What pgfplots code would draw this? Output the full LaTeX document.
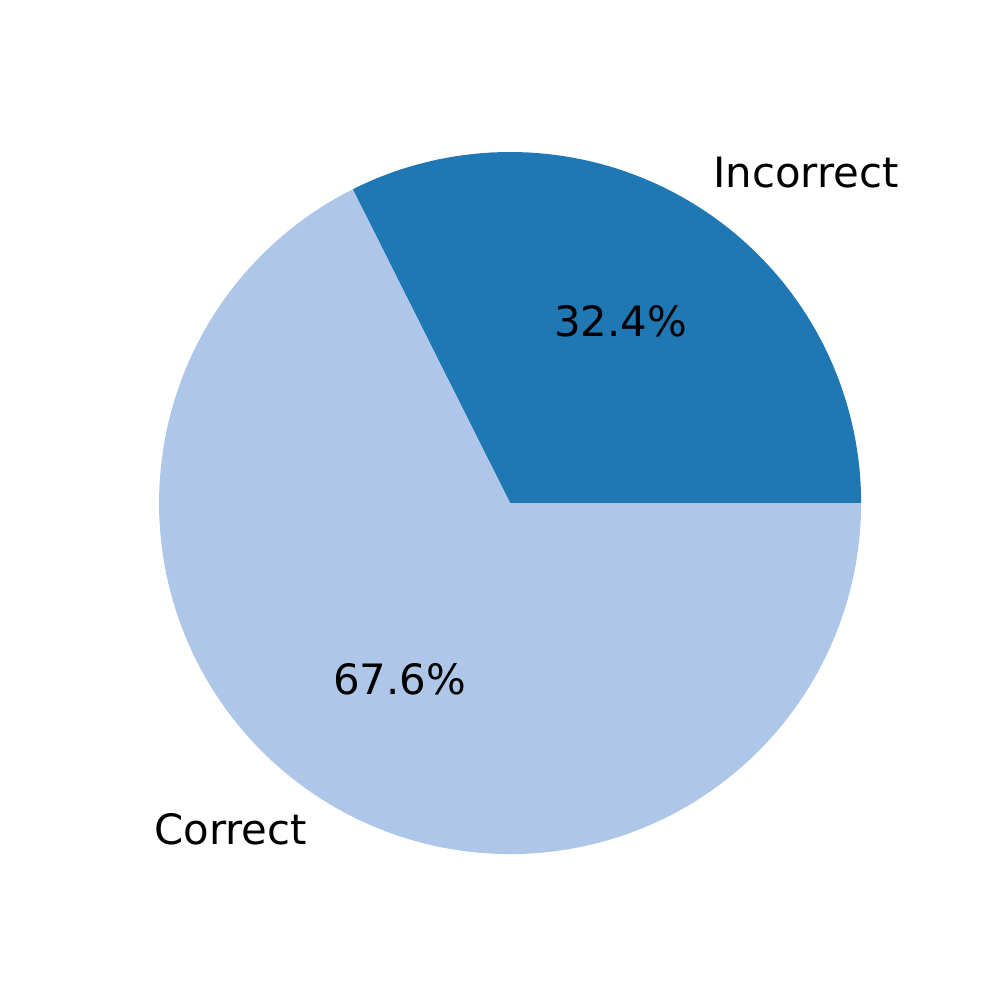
\documentclass[border=0pt]{standalone}
\usepackage{pgfplots}
\pgfplotsset{compat=1.18}
\usepackage{fontspec}
\setmainfont{DejaVu Sans}
\definecolor{tabA}{HTML}{1F77B4}
\definecolor{tabB}{HTML}{AEC7E8}
% shares in percent
\def\incorrect{32.4}
\def\correct{67.6}
\begin{document}
\begin{tikzpicture}
\pgfmathsetmacro{\angA}{3.6*\incorrect}
\pgfmathsetmacro{\midA}{\angA/2}
\pgfmathsetmacro{\midB}{\angA+1.8*\correct}
\begin{axis}[
  hide axis, scale only axis,
  width=720pt, height=720pt,
  xmin=-1.453, xmax=1.387, ymin=-1.407, ymax=1.433,
  clip=false,
]
\path (rel axis cs:0,0) (rel axis cs:1,1);
\addplot[fill=tabA, draw=none, domain=0:\angA, samples=80] ({cos(x)},{sin(x)}) -- (axis cs:0,0) -- cycle;
\addplot[fill=tabB, draw=none, domain=\angA:360, samples=160] ({cos(x)},{sin(x)}) -- (axis cs:0,0) -- cycle;
\node[font=\fontsize{30.2}{35}\selectfont, anchor=base west, inner sep=0pt] at (axis cs:{1.1*cos(\midA)},{1.1*sin(\midA)-0.037}) {Incorrect};
\node[font=\fontsize{30.2}{35}\selectfont, anchor=base east, inner sep=0pt] at (axis cs:{1.1*cos(\midB)},{1.1*sin(\midB)-0.037}) {Correct};
\node[font=\fontsize{30.2}{35}\selectfont, inner sep=0pt] at (axis cs:{0.6*cos(\midA)},{0.6*sin(\midA)+0.008}) {\incorrect\%};
\node[font=\fontsize{30.2}{35}\selectfont, inner sep=0pt] at (axis cs:{0.6*cos(\midB)},{0.6*sin(\midB)+0.008}) {\correct\%};
\end{axis}
\end{tikzpicture}
\end{document}
